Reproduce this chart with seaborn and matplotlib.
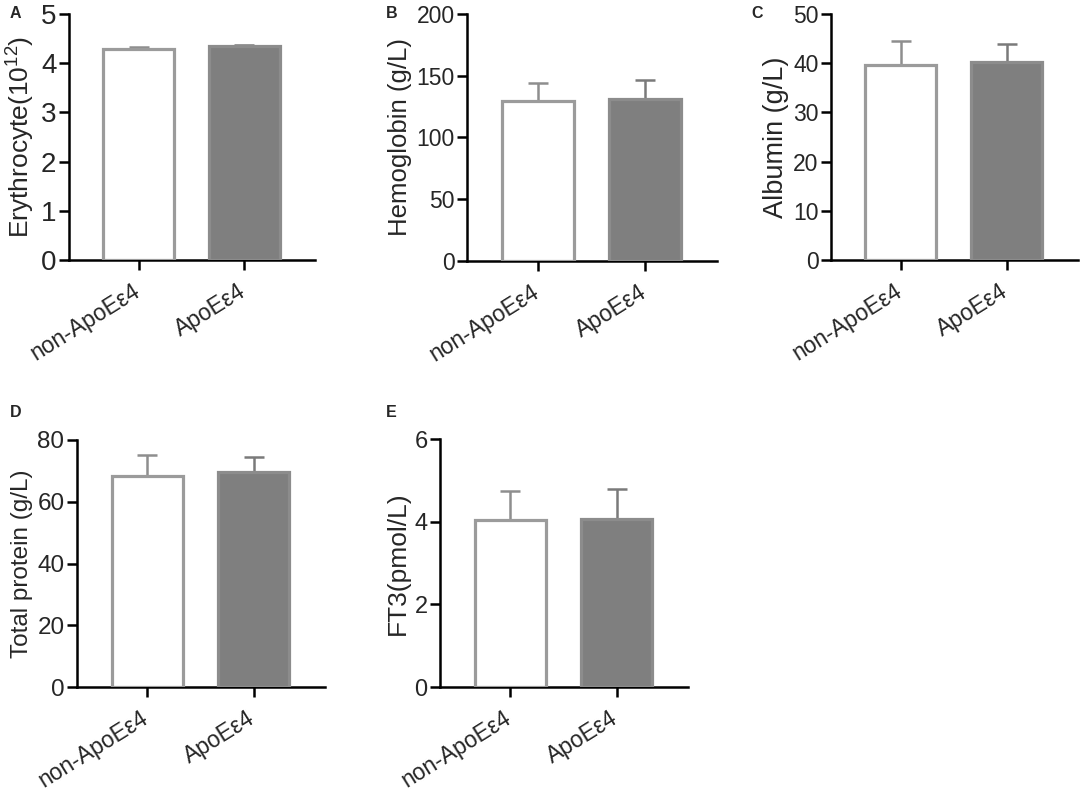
import matplotlib
matplotlib.use("Agg")
import matplotlib.pyplot as plt
import matplotlib.transforms as mtransforms
import seaborn as sns
import pandas as pd

sns.set_theme(style="ticks")
plt.rcParams['font.family'] = ['Liberation Sans', 'DejaVu Sans']

groups = ["non-ApoEε4", "ApoEε4"]

erythrocyte_mean = [4.28, 4.34]
erythrocyte_sd = [0.04, 0.04]
hemoglobin_mean = [129.6, 131.4]
hemoglobin_sd = [14.5, 15.2]
albumin_mean = [39.6, 40.2]
albumin_sd = [5.0, 3.8]
protein_mean = [68.3, 69.7]
protein_sd = [6.8, 4.7]
ft3_mean = [4.04, 4.06]
ft3_sd = [0.69, 0.73]

panels = [
    dict(letter="A", label="Erythrocyte(10$\\mathregular{^{12}}$)", mean=erythrocyte_mean, sd=erythrocyte_sd,
         ylim=5, yticks=[0, 1, 2, 3, 4, 5], px=(69, 315, 14, 260), tfs=20, lfs=19, letter_xy=(10, 6)),
    dict(letter="B", label="Hemoglobin (g/L)", mean=hemoglobin_mean, sd=hemoglobin_sd,
         ylim=200, yticks=[0, 50, 100, 150, 200], px=(467, 717, 14, 261), tfs=16.5, lfs=18.5, letter_xy=(386, 6)),
    dict(letter="C", label="Albumin (g/L)", mean=albumin_mean, sd=albumin_sd,
         ylim=50, yticks=[0, 10, 20, 30, 40, 50], px=(831, 1078, 14, 260), tfs=16.5, lfs=19.5, letter_xy=(751, 6)),
    dict(letter="D", label="Total protein (g/L)", mean=protein_mean, sd=protein_sd,
         ylim=80, yticks=[0, 20, 40, 60, 80], px=(77, 325, 440, 687), tfs=17.5, lfs=17.5, letter_xy=(10, 405)),
    dict(letter="E", label="FT3(pmol/L)", mean=ft3_mean, sd=ft3_sd,
         ylim=6, yticks=[0, 2, 4, 6], px=(440, 688, 439, 687), tfs=17, lfs=19, letter_xy=(386, 405)),
]

W, H = 1084, 791
fig = plt.figure(figsize=(W / 100, H / 100), dpi=100)
fig.patch.set_facecolor("white")

fills = ["#ffffff", "#7f7f7f"]
edges = ["#9b9b9b", "#8c8c8c"]
err_colors = ["#8e8e8e", "#7a7a7a"]

for p in panels:
    l, r, t, b = p["px"]
    ax = fig.add_axes([l / W, 1 - b / H, (r - l) / W, (b - t) / H])
    df = pd.DataFrame({"group": groups, "value": p["mean"]})
    sns.barplot(data=df, x="group", y="value", hue="group", palette=fills, width=0.67,
                legend=False, ax=ax, errorbar=None, zorder=3)
    for patch, ec in zip(ax.patches, edges):
        patch.set_edgecolor(ec)
        patch.set_linewidth(2.3)
    for i in range(2):
        ax.errorbar([i], [p["mean"][i]], yerr=[[0], [p["sd"][i]]], fmt="none",
                    ecolor=err_colors[i], elinewidth=1.8, capsize=7.5, capthick=1.8, zorder=2)
    ax.set_xlim(-0.66, 1.67)
    ax.set_ylim(0, p["ylim"])
    ax.set_yticks(p["yticks"])
    ax.set_xlabel("")
    ax.set_ylabel(p["label"], fontsize=p["lfs"], labelpad=3)
    ax.set_facecolor("white")
    for s in ["top", "right"]:
        ax.spines[s].set_visible(False)
    for s in ["left", "bottom"]:
        ax.spines[s].set_linewidth(1.8)
        ax.spines[s].set_color("black")
    ax.tick_params(axis="both", length=7, width=1.8, color="black", direction="out")
    ax.tick_params(axis="y", labelsize=p["tfs"], pad=2)
    ax.tick_params(axis="x", labelsize=16.5, pad=7)
    offset = mtransforms.ScaledTranslation(-7 / 100, 0, fig.dpi_scale_trans)
    for lab in ax.get_xticklabels():
        lab.set_rotation(32)
        lab.set_ha("right")
        lab.set_va("top")
        lab.set_rotation_mode("anchor")
        lab.set_transform(lab.get_transform() + offset)
    fig.text(p["letter_xy"][0] / W, 1 - p["letter_xy"][1] / H, p["letter"], fontsize=11.5,
             fontweight="bold", ha="left", va="top")

fig.savefig("out.png", dpi=100, facecolor="white")
